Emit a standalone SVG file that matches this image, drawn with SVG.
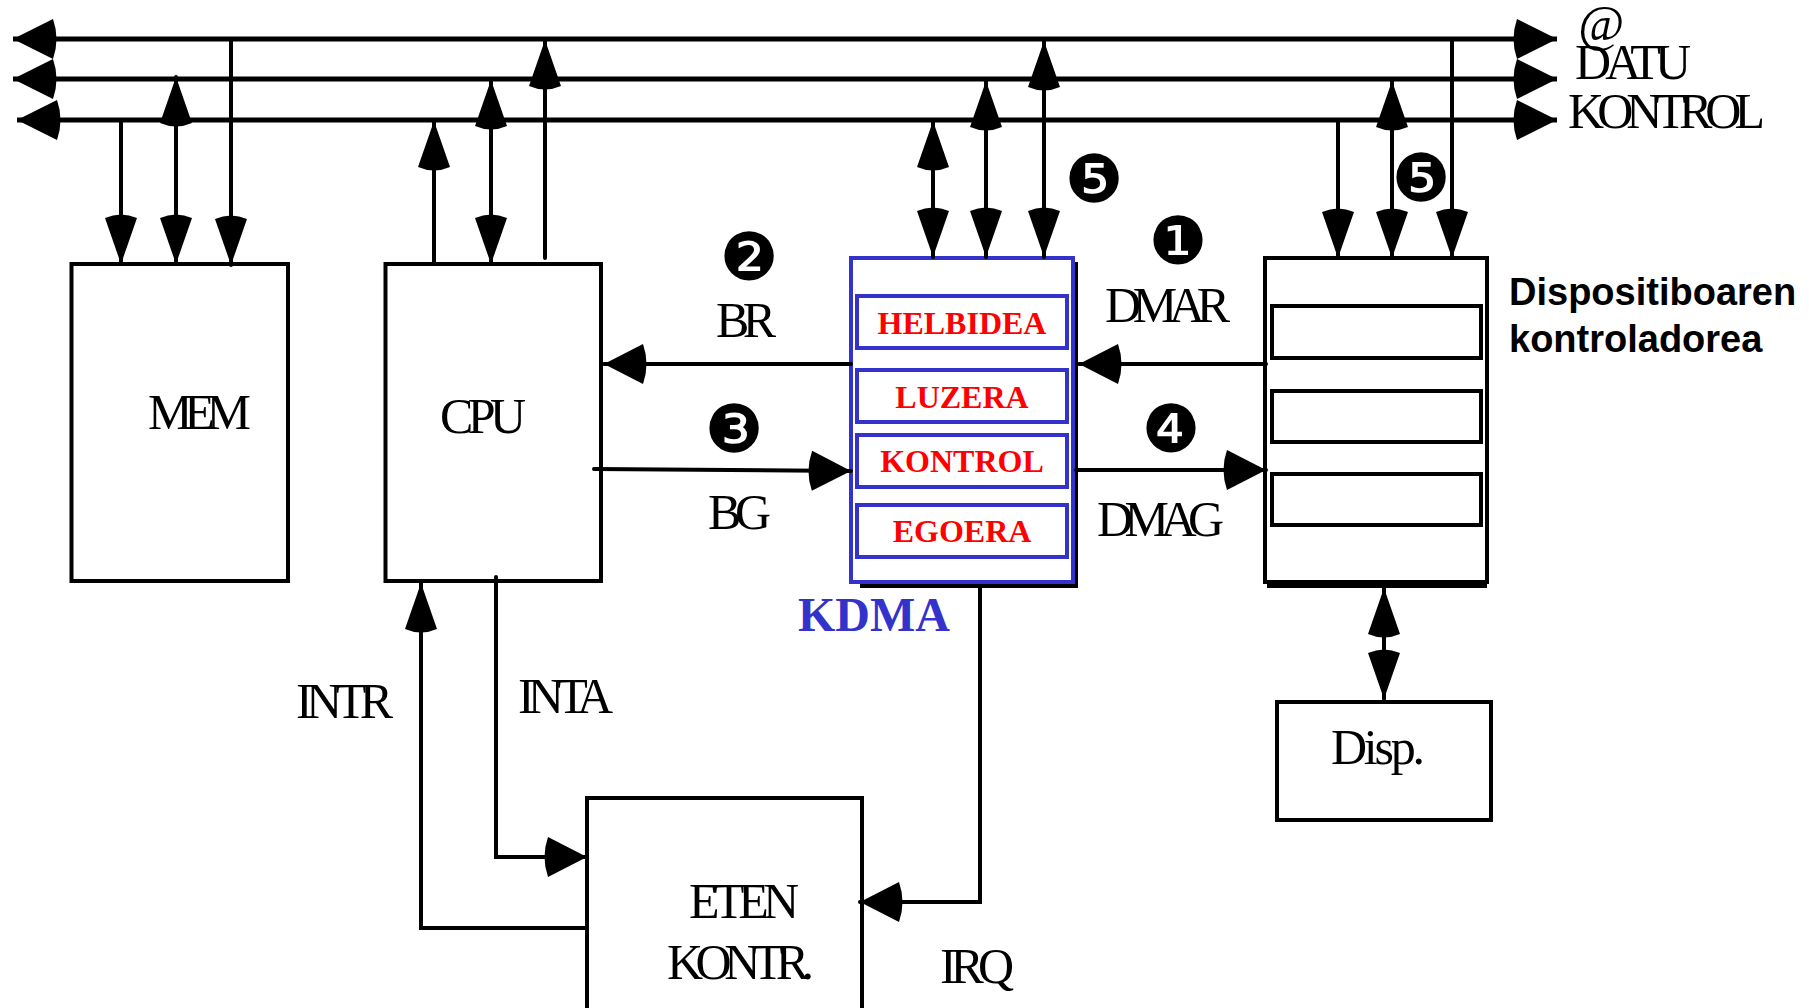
<svg xmlns="http://www.w3.org/2000/svg" width="1809" height="1008" viewBox="0 0 1809 1008">
<style>
.ln{stroke:#000;stroke-width:4;fill:none;stroke-linecap:round}
.bus{stroke:#000;stroke-width:5;fill:none}
.box{stroke:#000;stroke-width:4;fill:#fff}
.bbox{stroke:#3333CC;stroke-width:4;fill:#fff}
.ser{font-family:"Liberation Serif","Times New Roman",serif;font-size:50px;fill:#000}
.red{font-family:"Liberation Serif","Times New Roman",serif;font-size:32px;font-weight:bold;fill:#FF0000;text-anchor:middle}
.num{font-family:"DejaVu Sans",sans-serif;font-size:66px;fill:#000;text-anchor:middle}
.sans{font-family:"Liberation Sans",Arial,sans-serif;font-size:38px;font-weight:bold;fill:#000}
</style>
<defs>
<marker id="ab" viewBox="-10 -22 60 44" markerWidth="60" markerHeight="44" refX="40" refY="0" orient="auto-start-reverse" markerUnits="userSpaceOnUse"><path d="M0,-20 L40,0 L0,20 Q-7,0 0,-20Z" fill="#000"/></marker>
<marker id="ah" viewBox="-10 -22 60 44" markerWidth="60" markerHeight="44" refX="39" refY="0" orient="auto-start-reverse" markerUnits="userSpaceOnUse"><path d="M0,-20 L39,0 L0,20 Q-7,0 0,-20Z" fill="#000"/></marker>
<marker id="av" viewBox="-10 -20 60 40" markerWidth="60" markerHeight="40" refX="46" refY="0" orient="auto-start-reverse" markerUnits="userSpaceOnUse"><path d="M0,-16 L46,0 L0,16 Q-7,0 0,-16Z" fill="#000"/></marker>
</defs>
<rect width="1809" height="1008" fill="#fff"/>

<g id="mem">
<rect class="box" x="71.5" y="264" width="216.5" height="317"/>
<text class="ser" x="148" y="429" textLength="103">MEM</text>
</g>
<g id="cpu">
<rect class="box" x="385.5" y="264" width="215.5" height="317"/>
<text class="ser" x="440" y="433" textLength="86">CPU</text>
</g>
<g id="kdma">
<polyline points="1076,262 1076,586 860,586" fill="none" stroke="#000" stroke-width="4"/>
<rect class="bbox" x="851" y="258" width="222" height="324"/>
<rect class="bbox" x="857" y="296" width="210" height="52"/>
<rect class="bbox" x="857" y="370" width="210" height="52"/>
<rect class="bbox" x="857" y="435" width="210" height="52"/>
<rect class="bbox" x="857" y="505" width="210" height="52"/>
<text class="red" x="962" y="334">HELBIDEA</text>
<text class="red" x="962" y="408">LUZERA</text>
<text class="red" x="962" y="472">KONTROL</text>
<text class="red" x="962" y="542">EGOERA</text>
<text x="798" y="631" font-family="Liberation Serif,Times New Roman,serif" font-size="48" font-weight="bold" fill="#3333CC">KDMA</text>
</g>
<g id="device-controller">
<line x1="1267" y1="584" x2="1487" y2="584" stroke="#000" stroke-width="8"/>
<rect class="box" x="1265" y="258" width="222" height="324"/>
<rect class="box" x="1272" y="306" width="209" height="52"/>
<rect class="box" x="1272" y="391" width="209" height="51"/>
<rect class="box" x="1272" y="474" width="209" height="51"/>
<text class="sans" x="1509" y="305">Dispositiboaren</text>
<text class="sans" x="1509" y="352">kontroladorea</text>
</g>
<g id="disp">
<rect class="box" x="1277" y="702" width="214" height="118"/>
<text class="ser" x="1331" y="764" textLength="94">Disp.</text>
</g>
<g id="eten">
<rect class="box" x="587" y="798" width="275" height="240"/>
<text class="ser" x="689" y="918" textLength="110">ETEN</text>
<text class="ser" x="667" y="979" textLength="147">KONTR.</text>
</g>

<g id="connectors">
<line class="bus" x1="13" y1="39" x2="1557" y2="39" marker-start="url(#ab)" marker-end="url(#ab)"/>
<line class="bus" x1="13" y1="79" x2="1557" y2="79" marker-start="url(#ab)" marker-end="url(#ab)"/>
<line class="bus" x1="17" y1="120" x2="1557" y2="120" marker-start="url(#ab)" marker-end="url(#ab)"/>
<line class="ln" x1="121" y1="120" x2="121" y2="264" marker-end="url(#av)"/>
<line class="ln" x1="176" y1="77" x2="176" y2="264" marker-start="url(#av)" marker-end="url(#av)"/>
<line class="ln" x1="231" y1="39" x2="231" y2="265" marker-end="url(#av)"/>
<line class="ln" x1="434" y1="264" x2="434" y2="121" marker-end="url(#av)"/>
<line class="ln" x1="491" y1="80" x2="491" y2="264" marker-start="url(#av)" marker-end="url(#av)"/>
<line class="ln" x1="545" y1="258" x2="545" y2="40" marker-end="url(#av)"/>
<line class="ln" x1="933" y1="121" x2="933" y2="257" marker-start="url(#av)" marker-end="url(#av)"/>
<line class="ln" x1="986" y1="81" x2="986" y2="257" marker-start="url(#av)" marker-end="url(#av)"/>
<line class="ln" x1="1044" y1="41" x2="1044" y2="257" marker-start="url(#av)" marker-end="url(#av)"/>
<line class="ln" x1="1338" y1="120" x2="1338" y2="258" marker-end="url(#av)"/>
<line class="ln" x1="1392" y1="81" x2="1392" y2="258" marker-start="url(#av)" marker-end="url(#av)"/>
<line class="ln" x1="1452" y1="39" x2="1452" y2="258" marker-end="url(#av)"/>
<line class="ln" x1="1384" y1="588" x2="1384" y2="699" marker-start="url(#av)" marker-end="url(#av)"/>
<line class="ln" x1="851" y1="364" x2="604" y2="364" marker-end="url(#ah)"/>
<line class="ln" x1="1266" y1="364" x2="1079" y2="364" marker-end="url(#ah)"/>
<line class="ln" x1="594" y1="469" x2="851" y2="471" marker-end="url(#ah)"/>
<line class="ln" x1="1076" y1="470" x2="1266" y2="470" marker-end="url(#ah)"/>
<path class="ln" d="M496,577 V857 H587" marker-end="url(#ah)"/>
<path class="ln" d="M587,928 H421 V583" marker-end="url(#av)"/>
<path class="ln" d="M980,588 V902 H860" marker-end="url(#ah)"/>
</g>

<g id="labels">
<text class="ser" x="1578" y="40" font-size="42" font-style="italic">@</text>
<text class="ser" x="1575" y="79" textLength="116">DATU</text>
<text class="ser" x="1568" y="128" textLength="197">KONTROL</text>
<text class="ser" x="716" y="337" textLength="60">BR</text>
<text class="ser" x="708" y="529" textLength="63">BG</text>
<text class="ser" x="1105" y="322" textLength="125">DMAR</text>
<text class="ser" x="1097" y="536" textLength="127">DMAG</text>
<text class="ser" x="296" y="718" textLength="97">INTR</text>
<text class="ser" x="518" y="713" textLength="95">INTA</text>
<text class="ser" x="940" y="983" textLength="74">IRQ</text>
<text class="num" x="1178" y="264">❶</text>
<text class="num" x="749" y="280">❷</text>
<text class="num" x="734" y="452">❸</text>
<text class="num" x="1171" y="452">❹</text>
<text class="num" x="1094" y="202">❺</text>
<text class="num" x="1421" y="201">❺</text>
</g>
</svg>
